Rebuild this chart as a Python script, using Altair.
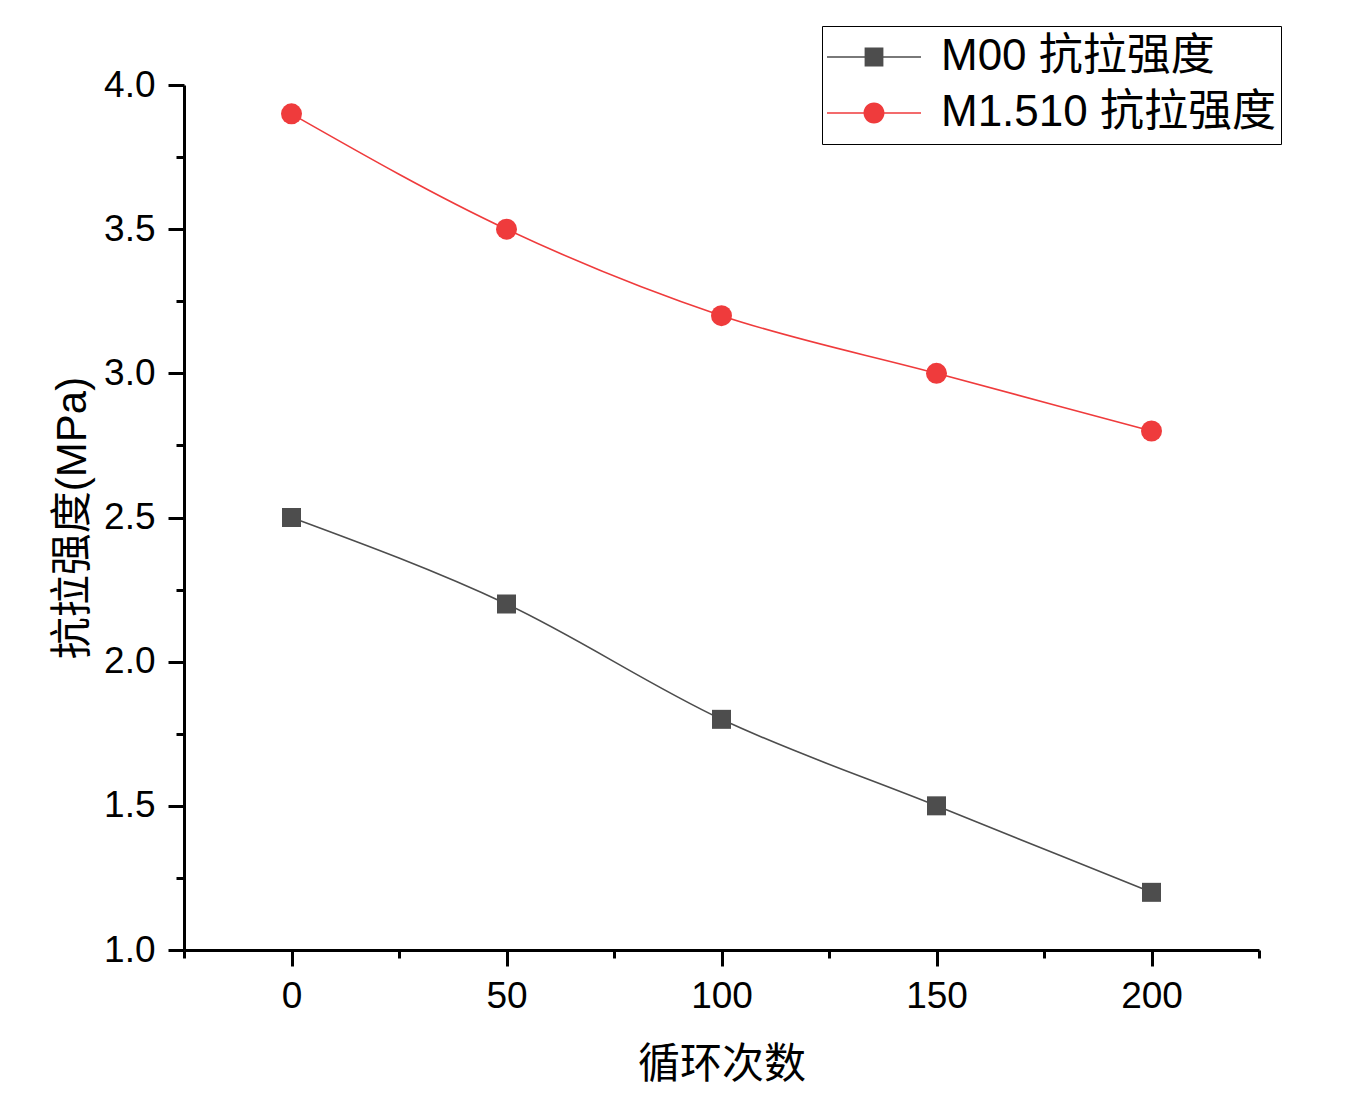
import altair as alt
import pandas as pd

cycles = [0, 50, 100, 150, 200]
series_names = ["M00 抗拉强度", "M1.510 抗拉强度"]
m00_values = [2.5, 2.2, 1.8, 1.5, 1.2]
m1510_values = [3.9, 3.5, 3.2, 3.0, 2.8]
series_colors = ["#4d4d4d", "#ef3b3c"]
series_shapes = ["square", "circle"]
series_sizes = [361, 441]
x_ticks = [-25, 0, 25, 50, 75, 100, 125, 150, 175, 200, 225]
y_ticks = [1.0, 1.25, 1.5, 1.75, 2.0, 2.25, 2.5, 2.75, 3.0, 3.25, 3.5, 3.75, 4.0]

rows = []
for name, vals in zip(series_names, [m00_values, m1510_values]):
    for c, v in zip(cycles, vals):
        rows.append({"cycles": c, "strength": v, "series": name})
df = pd.DataFrame(rows)

LATIN = "Liberation Sans, Arial, Noto Sans CJK SC"

x_axis = alt.Axis(
    values=x_ticks,
    labelExpr="datum.value % 50 === 0 ? datum.label : ''",
    tickSize={"condition": {"test": "datum.value % 50 === 0", "value": 16}, "value": 8},
    grid=False, domainWidth=3, domainColor="black", tickWidth=3, tickColor="black",
    labelFontSize=37, labelFont=LATIN, labelColor="black", labelPadding=12,
    labelFlush=False, labelOverlap=False, labelBound=False,
    title="循环次数", titleFontSize=42, titleFont=LATIN, titleFontWeight="normal",
    titleColor="black", titlePadding=30, format="d",
)
y_axis = alt.Axis(
    values=y_ticks,
    labelExpr="abs(datum.value*2 - round(datum.value*2)) < 0.000001 ? format(datum.value, '.1f') : ''",
    tickSize={"condition": {"test": "abs(datum.value*2 - round(datum.value*2)) < 0.000001", "value": 16}, "value": 8},
    grid=False, domainWidth=3, domainColor="black", tickWidth=3, tickColor="black",
    labelFontSize=37, labelFont=LATIN, labelColor="black", labelPadding=13,
    labelFlush=False, labelOverlap=False, labelBound=False,
    title="抗拉强度(MPa)", titleFontSize=42, titleFont=LATIN, titleFontWeight="normal",
    titleColor="black", titlePadding=9,
)

x_enc = alt.X("cycles:Q", scale=alt.Scale(domain=[-25, 225], nice=False, zero=False), axis=x_axis)
y_enc = alt.Y("strength:Q", scale=alt.Scale(domain=[1.0, 4.0], nice=False, zero=False), axis=y_axis)
color_scale = alt.Scale(domain=series_names, range=series_colors)

layers = []
for name, col, shp, sz in zip(series_names, series_colors, series_shapes, series_sizes):
    base = alt.Chart(df).transform_filter(alt.datum.series == name)
    layers.append(base.mark_line(interpolate="monotone", strokeWidth=1.6, color=col).encode(x=x_enc, y=y_enc))
    layers.append(base.mark_point(filled=True, opacity=1, strokeWidth=0, color=col, shape=shp, size=sz).encode(x=x_enc, y=y_enc))

# legend glyphs: line segment with marker in the middle (path units: [-1,1] = symbol size)
sq_path = "M-1,-0.016H1V0.016H-1Z M-0.2,-0.2H0.2V0.2H-0.2Z"
ci_path = "M-1,-0.016H1V0.016H-1Z M-0.223,0A0.223,0.223,0,1,1,0.223,0A0.223,0.223,0,1,1,-0.223,0Z"

legend_props = alt.Legend(
    title=None, orient="none", legendX=638, legendY=-59,
    symbolSize=8836, symbolStrokeWidth=0, symbolOpacity=1, symbolOffset=0,
    labelFontSize=44, labelFont=LATIN, labelColor="black", labelLimit=800,
    labelOffset=20, clipHeight=52, rowPadding=4, padding=5,
    strokeColor="black", fillColor="white",
)

legend_layer = alt.Chart(df).mark_point(filled=True, opacity=0, strokeWidth=0).encode(
    x=x_enc, y=y_enc,
    color=alt.Color("series:N", scale=color_scale, legend=legend_props),
    shape=alt.Shape("series:N", scale=alt.Scale(domain=series_names, range=[sq_path, ci_path]), legend=legend_props),
)
layers.append(legend_layer)

chart = alt.layer(*layers).properties(
    width=1075, height=865,
    padding={"left": 176, "top": 77, "right": 90, "bottom": 140},
    autosize=alt.AutoSizeParams(type="none"),
    background="white",
).configure_view(stroke=None)

chart.save("out.html", embed_options={"renderer": "svg", "actions": False})
